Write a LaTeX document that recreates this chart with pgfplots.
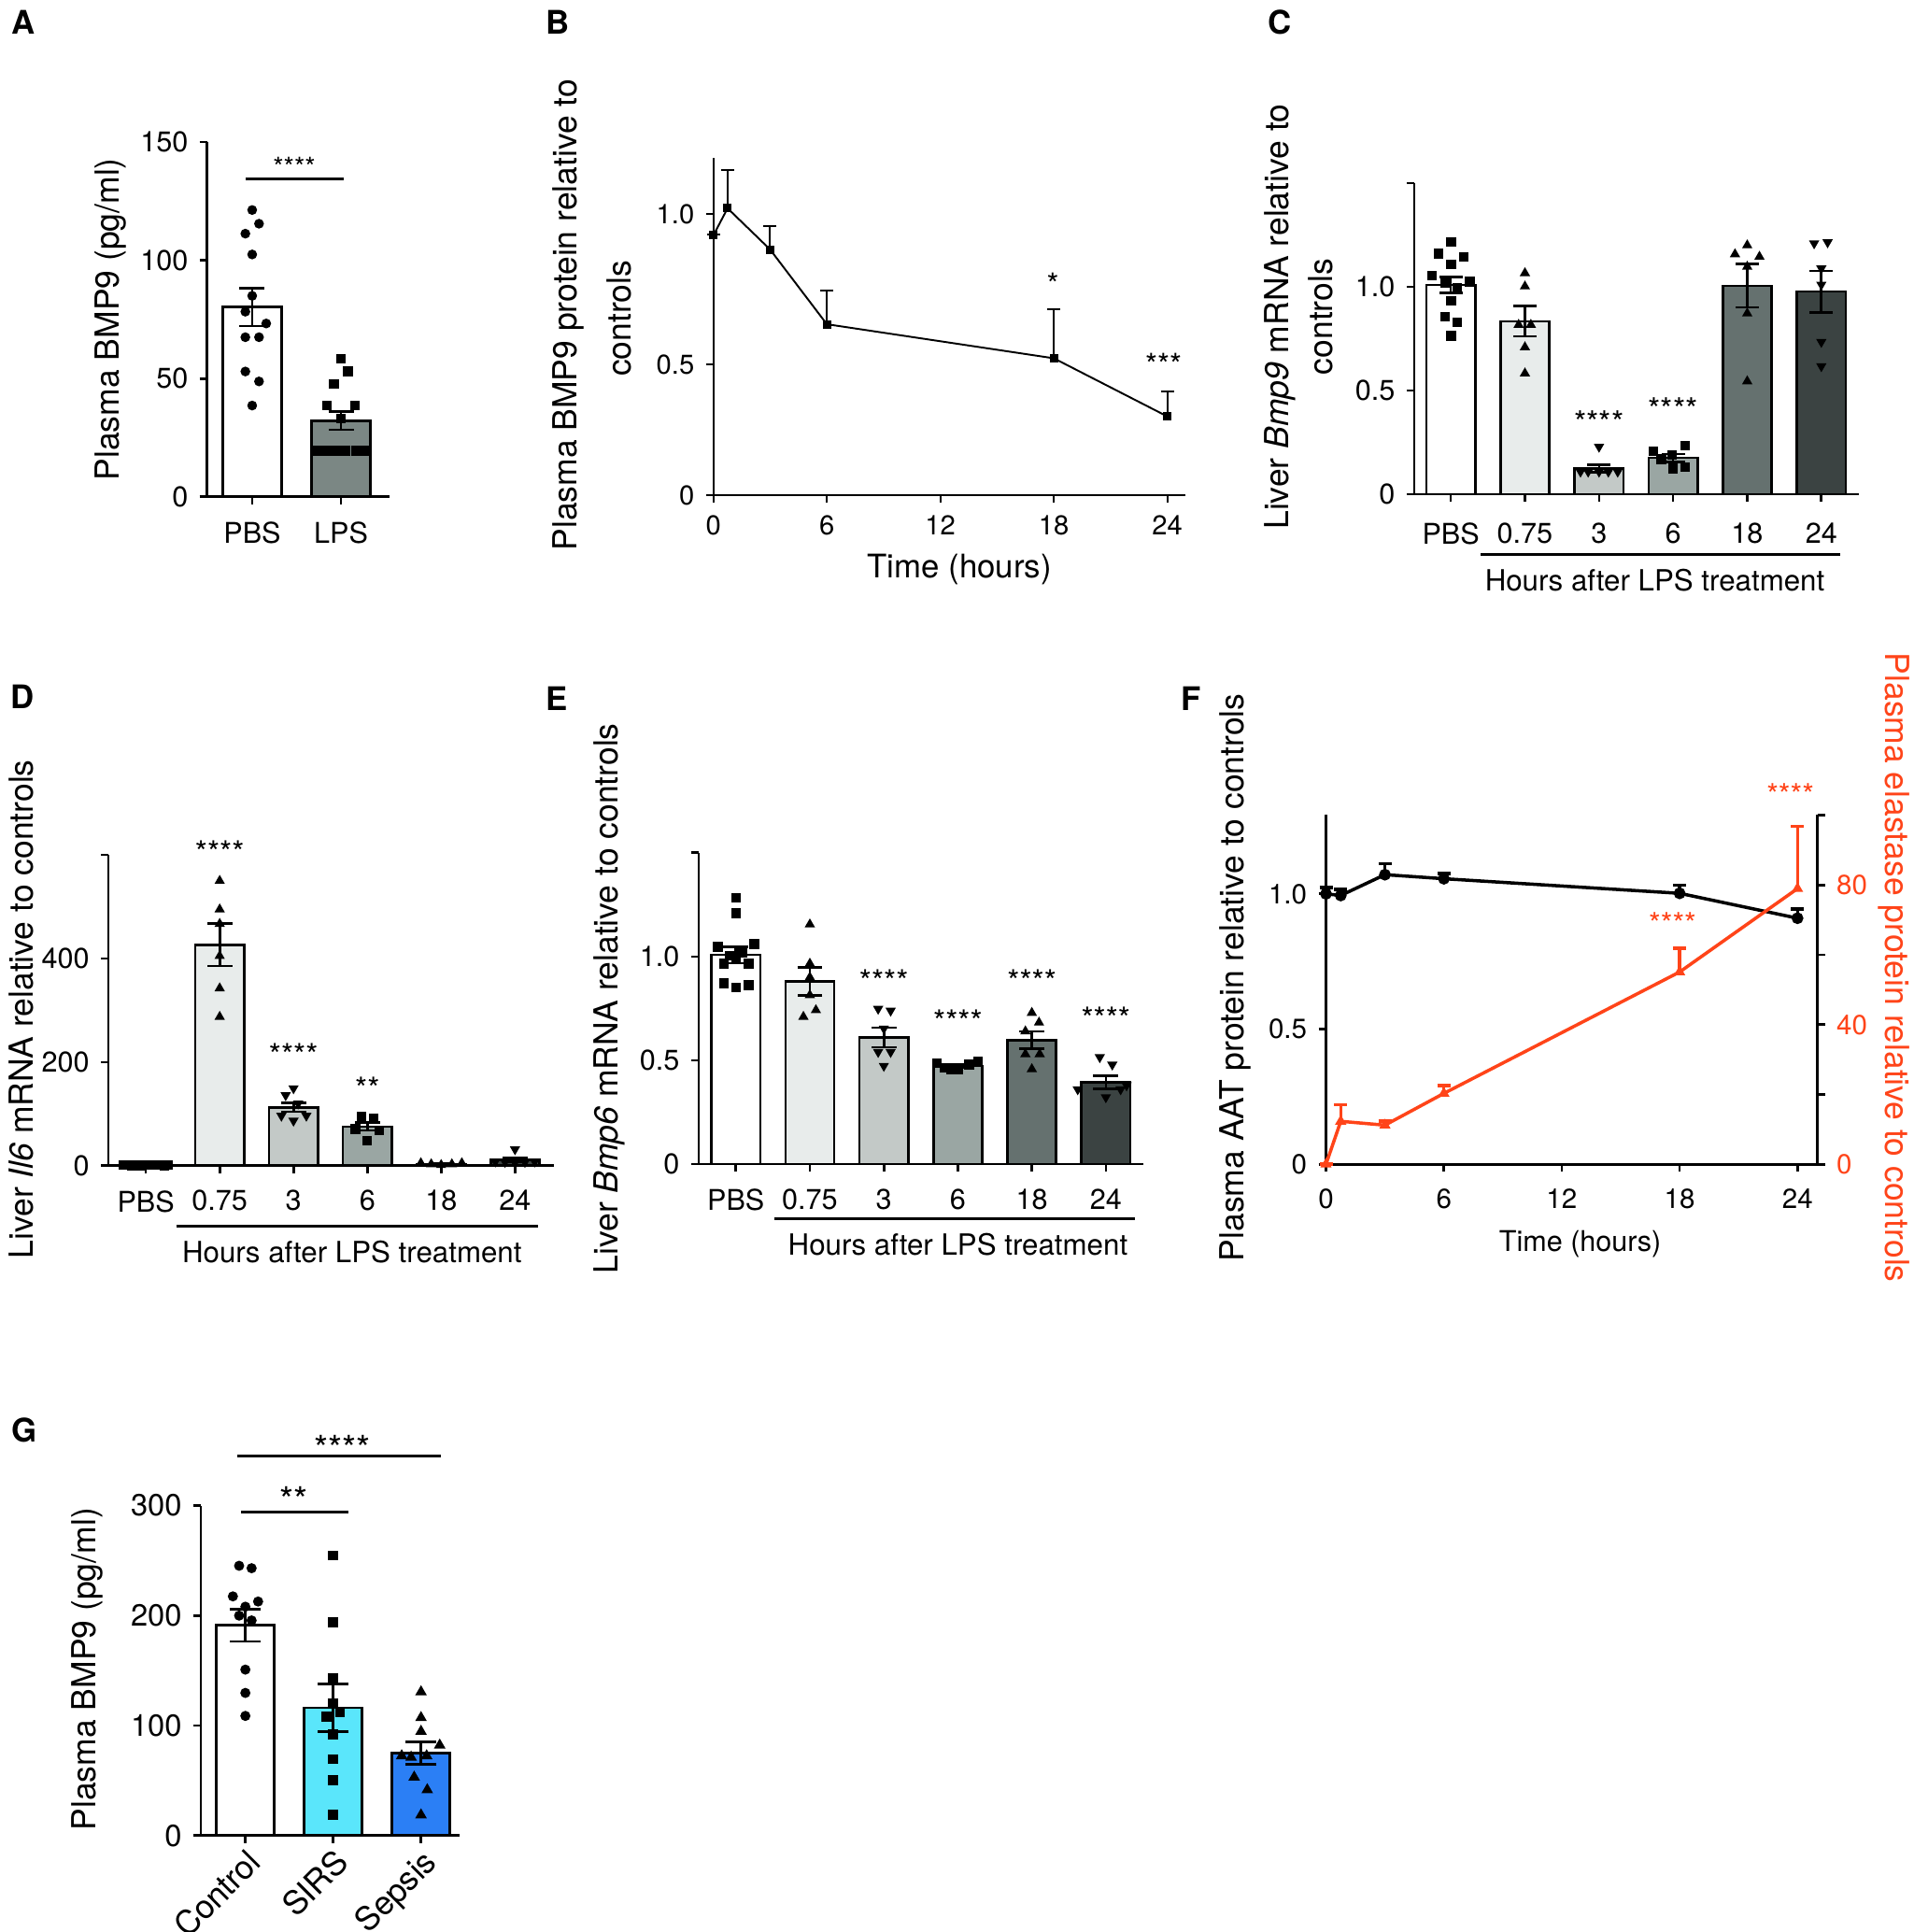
\documentclass[border=0pt]{standalone}
\usepackage{fontspec}
\setmainfont{TeX Gyre Heros}
\usepackage{pgfplots}
\pgfplotsset{compat=1.18}

\definecolor{cA}{HTML}{7B8784}
\definecolor{g1}{HTML}{E8ECEB}
\definecolor{g2}{HTML}{C3C9C7}
\definecolor{g3}{HTML}{9AA6A3}
\definecolor{g4}{HTML}{65716F}
\definecolor{g5}{HTML}{3B4342}
\definecolor{sirs}{HTML}{5AE6FB}
\definecolor{seps}{HTML}{2B7FF5}
\definecolor{ored}{HTML}{FF4419}

\newcommand\fs[1]{\fontsize{#1}{#1}\selectfont}

\tikzset{star/.style={font=\fs{#1}}}
\pgfplotsset{
  gp/.style={
    scale only axis, anchor=south west,
    axis x line*=bottom, axis y line*=left,
    axis line style={-, line width=0.75pt},
    tick style={line width=0.75pt, black},
    tick align=outside, major tick length=0.08cm,
    clip=false, /pgf/number format/assume math mode=true,
    ticklabel style={font=\fs{8.7}},
    xticklabel style={yshift=-0.06cm},
  },
  gbar/.style={ybar, bar width=0.66, bar shift=0pt, draw=black, line width=0.75pt, fill=#1},
  geb/.style={error bars/.cd, y dir=both, y explicit,
    error bar style={line width=0.75pt, black, solid},
    error mark options={rotate=90, line width=0.75pt, black, mark size=#1}},
  dots/.style={only marks, black, mark=*, mark size=#1},
  sq/.style={only marks, black, mark=square*, mark size=#1},
  tru/.style={only marks, black, mark=triangle*, mark size=#1},
  trd/.style={only marks, black, mark=triangle*, mark size=#1, mark options={rotate=180}},
}

\begin{document}
\begin{tikzpicture}
\useasboundingbox (0,0) rectangle (20.48,20.68);

% ---------- A ----------
\begin{axis}[gp, at={(2.217cm,15.362cm)}, width=1.95cm, height=3.796cm,
  xmin=-0.508, xmax=1.544, ymin=0, ymax=150,
  xtick={0,1}, xticklabels={PBS,LPS},
  ytick={0,50,100,150}, yticklabels={0,50,100,150}]
\addplot[gbar=white, geb=0.135cm] coordinates {(0,80.2) +- (0,8)};
\addplot[gbar=cA, geb=0.135cm] coordinates {(1,32.2) +- (0,3.9)};
\addplot[dots=0.045cm] coordinates {(0,121.3) (0.077,115.5) (-0.077,111.3) (0,102.5) (0,85) (-0.077,78.3) (0.158,73.3) (-0.077,67.5) (0.077,67.5) (-0.077,53) (0.077,48.8) (0,38.6)};
\addplot[sq=0.045cm] coordinates {(1,58.4) (1.077,53) (0.923,47.8) (0.842,38.6) (1.158,38.6) (1,33.1) (0.71,19.4) (0.825,19.4) (0.94,19.4) (1.05,19.4) (1.17,19.4) (1.28,19.4)};
\draw[line width=0.8pt] (axis cs:-0.074,134.6) -- (axis cs:1.03,134.6);
\node[star=8.3] at (axis cs:0.474,139.5) {****};
\end{axis}

% ---------- B ----------
\begin{axis}[gp, at={(7.637cm,15.38cm)}, width=5.051cm, height=3.609cm,
  xmin=0, xmax=24.95, ymin=0.0667, ymax=1.186,
  xtick={0,6,12,18,24}, xticklabels={0,6,12,18,24},
  ytick={0.0667,0.5,1}, yticklabels={0,0.5,1.0},
  axis line style={line width=0.6pt}, tick style={line width=0.6pt},
  ticklabel style={font=\fs{8.3}}, xticklabel style={yshift=0.05cm}]
\addplot[black, line width=0.55pt, mark=square*, mark size=0.035cm,
  error bars/.cd, y dir=plus, y explicit, error bar style={line width=0.55pt, solid},
  error mark options={rotate=90, line width=0.55pt, mark size=0.07cm}]
  coordinates {(0,0.929) +- (0,0.003) (0.75,1.019) +- (0,0.128) (3,0.882) +- (0,0.078) (6,0.634) +- (0,0.111) (18,0.521) +- (0,0.164) (24,0.328) +- (0,0.083)};
\node[star=9.5] at (axis cs:17.95,0.765) {*};
\node[star=9.5] at (axis cs:23.8,0.50) {***};
\end{axis}

% ---------- C ----------
\begin{axis}[gp, at={(15.138cm,15.388cm)}, width=4.764cm, height=3.333cm,
  xmin=-0.496, xmax=5.51, ymin=0, ymax=1.5,
  xtick={0,1,2,3,4,5}, xticklabels={PBS,0.75,3,6,18,24},
  xticklabel style={yshift=-0.04cm},
  ytick={0,0.5,1,1.5}, yticklabels={0,0.5,1.0,}]
\addplot[gbar=white, geb=0.124cm] coordinates {(0,1.009) +- (0,0.039)};
\addplot[gbar=g1, geb=0.124cm] coordinates {(1,0.834) +- (0,0.073)};
\addplot[gbar=g2, geb=0.124cm] coordinates {(2,0.124) +- (0,0.018)};
\addplot[gbar=g3, geb=0.124cm] coordinates {(3,0.176) +- (0,0.019)};
\addplot[gbar=g4, geb=0.124cm] coordinates {(4,1.005) +- (0,0.104)};
\addplot[gbar=g5, geb=0.124cm] coordinates {(5,0.977) +- (0,0.1)};
\addplot[sq=0.045cm] coordinates {(0.006,1.217) (-0.165,1.16) (0.171,1.145) (0.006,1.109) (-0.251,1.053) (0.256,1.024) (-0.08,1.017) (0.085,0.993) (0.006,0.933) (-0.08,0.855) (0.085,0.829) (0.006,0.764)};
\addplot[tru=0.05cm] coordinates {(1,1.066) (1,1.002) (0.915,0.817) (1.08,0.817) (1,0.709) (1,0.583)};
\addplot[trd=0.05cm] coordinates {(2,0.229) (1.75,0.109) (1.853,0.109) (2,0.109) (2.126,0.109) (2.252,0.109)};
\addplot[sq=0.045cm] coordinates {(2.735,0.207) (3.164,0.234) (2.84,0.169) (2.987,0.191) (3,0.124) (3.164,0.1315)};
\addplot[tru=0.05cm] coordinates {(3.835,1.157) (4,1.2) (4.165,1.145) (4,1.097) (4,0.872) (4,0.545)};
\addplot[trd=0.05cm] coordinates {(4.903,1.209) (5.085,1.214) (5,1.088) (5,1.01) (5,0.734) (5,0.617)};
\node[star=9.7] at (axis cs:2,0.345) {****};
\node[star=9.7] at (axis cs:3,0.41) {****};
\end{axis}

% ---------- D ----------
\begin{axis}[gp, at={(1.16cm,8.202cm)}, width=4.772cm, height=3.327cm,
  xmin=-0.508, xmax=5.53, ymin=0, ymax=600,
  xtick={0,1,2,3,4,5}, xticklabels={PBS,0.75,3,6,18,24},
  ytick={0,200,400,600}, yticklabels={0,200,400,}]
\addplot[gbar=white, geb=0.134cm] coordinates {(0,1) +- (0,0.3)};
\addplot[gbar=g1, geb=0.134cm] coordinates {(1,426.5) +- (0,41)};
\addplot[gbar=g2, geb=0.134cm] coordinates {(2,112.5) +- (0,8.5)};
\addplot[gbar=g3, geb=0.134cm] coordinates {(3,75.5) +- (0,7.5)};
\addplot[gbar=g4, geb=0.134cm] coordinates {(4,3.5) +- (0,1)};
\addplot[gbar=g5, geb=0.134cm] coordinates {(5,11) +- (0,4)};
\addplot[sq=0.045cm] coordinates {(-0.3,1) (-0.245,1.5) (-0.19,0.8) (-0.135,1.2) (-0.08,0.7) (-0.025,1.3) (0.03,1) (0.085,1.4) (0.14,0.9) (0.195,1.1) (0.25,0.8) (0.3,1.2)};
\addplot[tru=0.05cm] coordinates {(1,550) (1,494.9) (1,467) (1,405) (1,342.6) (1,287.5)};
\addplot[trd=0.05cm] coordinates {(2,149.3) (1.894,136) (2.063,119.9) (1.836,96.3) (2,86.8) (2.174,96.3)};
\addplot[sq=0.045cm] coordinates {(2.923,94) (3.082,90.4) (2.84,70.6) (3.164,68.4) (3,47.8)};
\addplot[tru=0.05cm] coordinates {(3.725,5) (3.865,3) (4,1.5) (4.145,3) (4.28,5)};
\addplot[trd=0.05cm] coordinates {(5,31.6) (4.734,8) (4.865,7) (5,6) (5.135,7) (5.266,8)};
\node[star=9.6] at (axis cs:1,605) {****};
\node[star=9.6] at (axis cs:2,213) {****};
\node[star=9.6] at (axis cs:3,149) {**};
\end{axis}

% ---------- E ----------
\begin{axis}[gp, at={(7.479cm,8.219cm)}, width=4.76cm, height=3.333cm,
  xmin=-0.503, xmax=5.506, ymin=0, ymax=1.5,
  xtick={0,1,2,3,4,5}, xticklabels={PBS,0.75,3,6,18,24},
  ytick={0,0.5,1,1.5}, yticklabels={0,0.5,1.0,}]
\addplot[gbar=white, geb=0.134cm] coordinates {(0,1.008) +- (0,0.04)};
\addplot[gbar=g1, geb=0.134cm] coordinates {(1,0.881) +- (0,0.068)};
\addplot[gbar=g2, geb=0.134cm] coordinates {(2,0.61) +- (0,0.047)};
\addplot[gbar=g3, geb=0.134cm] coordinates {(3,0.4735) +- (0,0.008)};
\addplot[gbar=g4, geb=0.134cm] coordinates {(4,0.597) +- (0,0.042)};
\addplot[gbar=g5, geb=0.134cm] coordinates {(5,0.394) +- (0,0.032)};
\addplot[sq=0.045cm] coordinates {(0,1.282) (0,1.208) (-0.242,1.047) (0.251,1.061) (-0.082,1.004) (0.087,1.019) (-0.164,0.966) (0.174,0.966) (0,0.985) (-0.164,0.871) (0,0.852) (0.174,0.862)};
\addplot[tru=0.05cm] coordinates {(1,1.155) (1,0.966) (1,0.9) (1,0.814) (0.913,0.71) (1.082,0.742)};
\addplot[trd=0.05cm] coordinates {(1.923,0.748) (2.092,0.739) (2,0.653) (1.923,0.54) (2.092,0.54) (2,0.473)};
\addplot[sq=0.045cm] coordinates {(2.72,0.487) (2.816,0.464) (2.913,0.455) (3.01,0.455) (3.155,0.479) (3.275,0.496)};
\addplot[tru=0.05cm] coordinates {(4,0.729) (4.097,0.682) (3.913,0.64) (3.913,0.53) (4.106,0.53) (4,0.458)};
\addplot[trd=0.05cm] coordinates {(4.918,0.515) (5.087,0.479) (4.62,0.36) (5,0.322) (5.2,0.36) (5.28,0.379)};
\node[star=9.6] at (axis cs:2,0.88) {****};
\node[star=9.6] at (axis cs:3,0.69) {****};
\node[star=9.6] at (axis cs:4,0.88) {****};
\node[star=9.6] at (axis cs:5,0.70) {****};
\end{axis}

% ---------- F ----------
\begin{axis}[gp, at={(14.195cm,8.218cm)}, width=5.262cm, height=3.742cm,
  xmin=0, xmax=25.02, ymin=0, ymax=1.293,
  xtick={0,6,12,18,24}, xticklabels={0,6,12,18,24},
  ytick={0,0.5,1}, yticklabels={0,0.5,1.0}, ticklabel style={font=\fs{8.4}}]
\addplot[black, line width=1pt, mark=*, mark size=0.045cm,
  error bars/.cd, y dir=plus, y explicit, error bar style={line width=1pt, solid},
  error mark options={rotate=90, line width=1pt, mark size=0.07cm}]
  coordinates {(0,1.0) +- (0,0.024) (0.75,0.994) +- (0,0.023) (3,1.071) +- (0,0.04) (6,1.056) +- (0,0.019) (18,1.002) +- (0,0.03) (24,0.910) +- (0,0.034)};
\end{axis}
\begin{axis}[gp, at={(14.195cm,8.218cm)}, width=5.262cm, height=3.742cm,
  xmin=0, xmax=25.02, ymin=0, ymax=100.2,
  axis x line=none, axis y line*=right,
  ytick={0,20,40,60,80,100}, yticklabels={0,,40,,80,},
  yticklabel style={text=ored, font=\fs{8.4}}]
\addplot[ored, line width=1pt, mark=triangle*, mark size=0.035cm,
  error bars/.cd, y dir=plus, y explicit, error bar style={line width=1pt, solid},
  error mark options={rotate=90, line width=1pt, mark size=0.07cm}]
  coordinates {(0,0) +- (0,0) (0.75,12.3) +- (0,4.7) (3,11.2) +- (0,1.2) (6,20.3) +- (0,2.2) (18,55.1) +- (0,6.8) (24,79.0) +- (0,17.8)};
\node[star=9.3, text=ored] at (axis cs:17.64,69) {****};
\node[star=9.3, text=ored] at (axis cs:23.64,106) {****};
\end{axis}

% ---------- G ----------
\begin{axis}[gp, at={(2.15cm,1.032cm)}, width=2.767cm, height=3.532cm,
  xmin=-0.507, xmax=2.436, ymin=0, ymax=300,
  xtick={0,1,2}, xticklabels={Control,SIRS,Sepsis},
  ytick={0,100,200,300}, yticklabels={0,100,200,300},
  ticklabel style={font=\fs{9.3}},
  xticklabel style={yshift=0.19cm, rotate=45, anchor=north east, font=\fs{10}}]
\addplot[gbar=white, geb=0.167cm] coordinates {(0,191.3) +- (0,14.7)};
\addplot[gbar=sirs, geb=0.167cm] coordinates {(1,116.3) +- (0,21.7)};
\addplot[gbar=seps, geb=0.167cm] coordinates {(2,75) +- (0,10.2)};
\addplot[dots=0.047cm] coordinates {(-0.071,245.3) (0.071,243.1) (-0.142,217.5) (0.145,212.8) (0,208.1) (-0.071,200) (0.071,195.6) (0,150.9) (0,129.7) (0,108.8)};
\addplot[sq=0.047cm] coordinates {(1,254.7) (1,194.1) (1,143.1) (1,119.7) (0.922,107.8) (1.078,111.9) (1,92.2) (1,69.4) (1,50.6) (1,18.75)};
\addplot[tru=0.058cm] coordinates {(2,130.6) (2,107.2) (2,94.7) (2.213,82.2) (1.78,72.5) (1.887,71.25) (2.064,72.5) (1.922,53.1) (2.071,41.6) (2,18.75)};
\draw[line width=0.9pt] (axis cs:-0.047,294.3) -- (axis cs:1.17,294.3);
\node[star=11] at (axis cs:0.556,305) {**};
\draw[line width=0.9pt] (axis cs:-0.093,344.8) -- (axis cs:2.223,344.8);
\node[star=11] at (axis cs:1.106,352) {****};
\end{axis}

% ---------- text in pixel units ----------
\begin{scope}[x=0.01cm, y=-0.01cm, shift={(0,20.68cm)}]
\tikzset{lab/.style={font=\fs{10.1}, rotate=90, inner sep=0pt},
         let/.style={font=\fs{9.9}\bfseries, inner sep=0pt},
         hrs/.style={font=\fs{8.9}, inner sep=0pt}}
\node[let] at (25,24) {A};
\node[let] at (597,24) {B};
\node[let] at (1371,24) {C};
\node[let] at (24,746) {D};
\node[let] at (596,748) {E};
\node[let] at (1276,748) {F};
\node[let] at (26,1532) {G};

\node[lab] at (118.3,342) {Plasma BMP9 (pg/ml)};
\node[lab] at (608.5,337.5) {Plasma BMP9 protein relative to};
\node[lab] at (662.7,341) {controls};
\node[lab] at (1371.6,339.4) {Liver \textit{Bmp9} mRNA relative to};
\node[lab] at (1414.5,339.4) {controls};
\node[lab] at (22.4,1081) {Liver \textit{Il6} mRNA relative to controls};
\node[lab] at (653,1069.5) {Liver \textit{Bmp6} mRNA relative to controls};
\node[lab] at (1323.5,1047) {Plasma AAT protein relative to controls};
\node[lab, rotate=180, text=ored] at (2028.5,1036.3) {Plasma elastase protein relative to controls};
\node[lab] at (93.3,1787.8) {Plasma BMP9 (pg/ml)};

\node[font=\fs{9.9}, inner sep=0pt] at (1027.7,610) {Time (hours)};
\node[font=\fs{8.7}, inner sep=0pt] at (1692.5,1332) {Time (hours)};

\draw[line width=0.85pt] (1586,593.9) -- (1971.2,593.9);
\node[hrs] at (1772.5,621.8) {Hours after LPS treatment};
\draw[line width=0.85pt] (188.7,1313.1) -- (576,1313.1);
\node[hrs] at (377,1340.5) {Hours after LPS treatment};
\draw[line width=0.85pt] (829,1305) -- (1215.5,1305);
\node[hrs] at (1026,1332.4) {Hours after LPS treatment};
\end{scope}
\end{tikzpicture}
\end{document}
